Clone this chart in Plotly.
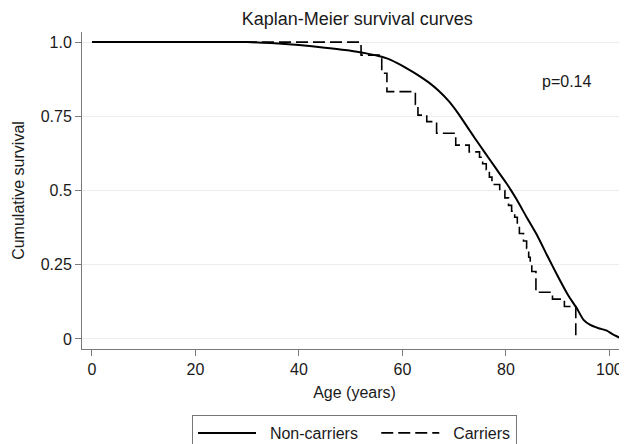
import plotly.graph_objects as go

# Non-carriers (smooth KM curve)
noncarrier_age = [0, 30, 33, 36, 40, 45, 50, 53, 55, 57, 59, 61, 63, 65, 67, 69, 71, 73,
                  74, 76, 78, 80, 82, 84, 86, 88, 90, 92, 93.7, 95.0, 96.3, 97.9, 99.5,
                  100.5, 102.4]
noncarrier_surv = [1.0, 1.0, 0.998, 0.995, 0.99, 0.981, 0.971, 0.962, 0.955, 0.945, 0.929,
                   0.91, 0.889, 0.865, 0.836, 0.80, 0.754, 0.702, 0.676, 0.626, 0.576,
                   0.527, 0.472, 0.41, 0.35, 0.28, 0.212, 0.148, 0.103, 0.064, 0.047,
                   0.036, 0.028, 0.017, 0.0]

# Carriers (step function)
carrier_age = [0, 52.0, 56.0, 57.0, 62.5, 63.0, 64.7, 66.6, 70.3, 72.9, 74.9, 75.5, 76.2,
               76.8, 77.3, 78.8, 79.8, 80.5, 81.1, 81.7, 82.2, 82.6, 83.4, 84.0, 84.4, 84.7,
               85.0, 85.8, 89.0, 91.3, 93.5]
carrier_surv = [1.0, 0.956, 0.895, 0.833, 0.79, 0.754, 0.732, 0.693, 0.653, 0.63, 0.612,
                0.59, 0.57, 0.545, 0.52, 0.50, 0.475, 0.45, 0.43, 0.41, 0.38, 0.355, 0.33,
                0.305, 0.275, 0.25, 0.227, 0.157, 0.134, 0.109, 0.0]

x_ticks = [0, 20, 40, 60, 80, 100]
y_ticks = [0, 0.25, 0.5, 0.75, 1.0]
y_ticklabels = ["0", "0.25", "0.5", "0.75", "1.0"]

FONT = "Liberation Sans, Arial, sans-serif"
TXT = "#1a1a1a"
AX = "#7a7a7a"
NB = "\u00a0"

fig = go.Figure()
fig.add_trace(go.Scatter(x=noncarrier_age, y=noncarrier_surv, mode="lines",
                         name=NB * 2 + "Non-carriers" + NB * 3,
                         line=dict(color="black", width=2, shape="spline", smoothing=0.5)))
fig.add_trace(go.Scatter(x=carrier_age, y=carrier_surv, mode="lines",
                         name=NB * 2 + "Carriers",
                         line=dict(color="black", width=1.6, shape="hv", dash="12px,5px")))

# page body has an 8px margin, so the figure is sized/positioned to compensate
fig.update_layout(
    width=619, height=436,
    margin=dict(l=74, r=0, t=24, b=95, autoexpand=False),
    paper_bgcolor="white", plot_bgcolor="white",
    font=dict(family=FONT, size=16, color=TXT),
    title=dict(text="Kaplan-Meier survival curves", x=0.505, xanchor="center",
               xref="paper", y=1 - 10.5 / 436, yanchor="middle", yref="container",
               font=dict(size=18, color=TXT)),
    xaxis=dict(range=[-1.93, 103.4], tickvals=x_ticks, showgrid=False, zeroline=False,
               showline=True, linecolor=AX, linewidth=1, ticks="outside", ticklen=6,
               tickcolor=AX, tickfont=dict(size=16), ticklabeloverflow="allow",
               title=dict(text="Age (years)", font=dict(size=16), standoff=9)),
    yaxis=dict(range=[-0.034, 1.034], tickvals=y_ticks, ticktext=y_ticklabels,
               showgrid=True, gridcolor="#ececec", gridwidth=1, zeroline=False,
               showline=True, linecolor=AX, linewidth=1, ticks="outside", ticklen=6,
               tickcolor=AX, tickfont=dict(size=16),
               title=dict(text="Cumulative survival", font=dict(size=16), standoff=12)),
    legend=dict(orientation="h", x=0.5, xanchor="center", y=-66 / 317, yanchor="top",
                bordercolor="#777777", borderwidth=1, bgcolor="white",
                font=dict(size=16, color=TXT), itemwidth=58),
    showlegend=True,
)

fig.add_annotation(text="p=0.14", xref="paper", yref="paper", x=0.889, y=0.843,
                   xanchor="center", yanchor="middle",
                   showarrow=False, font=dict(size=16, color=TXT))

fig.write_html("out.html")
